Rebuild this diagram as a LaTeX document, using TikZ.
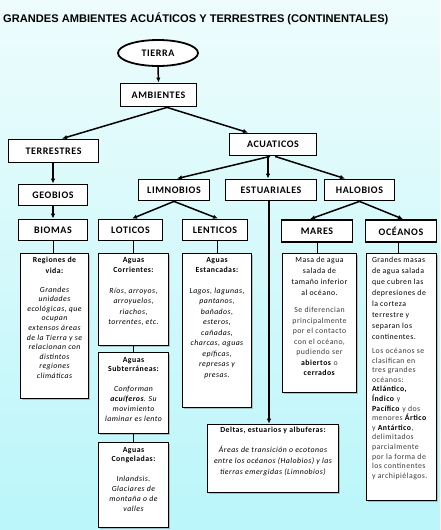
\documentclass[tikz,border=0pt]{standalone}
\usepackage{fontspec}
\setmainfont{Carlito}[LetterSpace=6]
\newfontfamily\titlefont{Liberation Sans}
\usetikzlibrary{shapes.geometric,shadows,arrows.meta,calc}
\definecolor{bgtop}{RGB}{238,252,252}
\definecolor{bgbot}{RGB}{186,246,250}
\definecolor{softtext}{RGB}{60,60,60}
\newcommand\dtext[3]{\parbox[c][#2][t]{#1}{#3}}
\newcommand\bk[1]{\textcolor{black}{\textbf{#1}}}
\begin{document}
\begin{tikzpicture}[x=1pt,y=-1pt,
 lbl/.style={draw, line width=1.8pt, fill=white, inner sep=0pt, font=\fontsize{10}{12}\selectfont\bfseries},
 desc/.style={draw, line width=0.7pt, fill=white, inner xsep=1.5pt, inner ysep=0pt,
   drop shadow={shadow xshift=1.8pt, shadow yshift=-1.8pt, opacity=0.45},
   font=\fontsize{7.8}{10.5}\selectfont},
 arr/.style={line width=1.5pt, -{Latex[length=5pt,width=4.5pt]}},
 thinline/.style={line width=0.6pt}]
\shade[top color=bgtop,bottom color=bgbot] (0,0) rectangle (440,530);
\node[anchor=base west, inner sep=0pt, font=\titlefont\bfseries\fontsize{11.1}{13}\selectfont] (title) at (3,22.7) {GRANDES AMBIENTES ACUÁTICOS Y TERRESTRES (CONTINENTALES)};

\node[lbl, ellipse, minimum width=80pt, minimum height=26pt] (tierra) at (158,53) {TIERRA};
\node[lbl, minimum width=76pt, minimum height=23pt] (amb) at (158.5,95) {AMBIENTES};
\node[lbl, minimum width=90pt, minimum height=23pt] (terr) at (53.5,151) {TERRESTRES};
\node[lbl, minimum width=87pt, minimum height=22pt] (acu) at (273,144.5) {ACUATICOS};
\node[lbl, minimum width=69pt, minimum height=21pt] (geo) at (53,195) {GEOBIOS};
\node[lbl, minimum width=71pt, minimum height=21pt] (limno) at (174,190) {LIMNOBIOS};
\node[lbl, minimum width=91pt, minimum height=21pt] (estu) at (271,190) {ESTUARIALES};
\node[lbl, minimum width=70pt, minimum height=21pt] (halo) at (359.5,190) {HALOBIOS};
\node[lbl, minimum width=69pt, minimum height=21pt] (biomas) at (53,230) {BIOMAS};
\node[lbl, minimum width=64pt, minimum height=21pt] (lot) at (130.5,230) {LOTICOS};
\node[lbl, minimum width=65pt, minimum height=21pt] (len) at (215,230) {LENTICOS};
\node[lbl, minimum width=71pt, minimum height=22pt] (mares) at (317,231) {MARES};
\node[lbl, minimum width=71pt, minimum height=22pt] (oce) at (401,231) {OCÉANOS};

% description boxes
\node[desc] (dbio) at (54.5,325.5) {\dtext{65pt}{145pt}{\centering\vspace*{4.5pt}%
{\bfseries Regiones de\\ vida:\par}\vspace{9pt}%
{\fontsize{7.8}{9.6}\selectfont\itshape Grandes\\ unidades\\ ecológicas, que\\ ocupan\\ extensos áreas\\ de la Tierra y se\\ relacionan con\\ distintos\\ regiones\\ climáticas\par}}};

\node[desc] (dcorr) at (133.5,299) {\dtext{67pt}{92pt}{\centering\vspace*{4pt}%
{\bfseries Aguas\\ Corrientes:\par}\vspace{10pt}%
{\itshape Ríos, arroyos,\\ arroyuelos,\\ riachos,\\ torrentes, etc.\par}}};

\node[desc, font=\fontsize{7.8}{9.9}\selectfont] (dsub) at (133.5,392.5) {\dtext{67pt}{81pt}{\centering\vspace*{5pt}%
{\bfseries Aguas\\ Subterráneas:\par}\vspace{10pt}%
{\itshape Conforman\\ \textbf{acuíferos}. Su\\ movimiento\\ laminar es lento\par}}};

\node[desc, font=\fontsize{7.8}{9.9}\selectfont] (dcong) at (133.5,484.5) {\dtext{67pt}{85pt}{\centering\vspace*{5pt}%
{\bfseries Aguas\\ Congeladas:\par}\vspace{10pt}%
{\itshape Inlandsis.\\ Glaciares de\\ montaña o de\\ valles\par}}};

\node[desc] (dest) at (217,330) {\dtext{66pt}{154pt}{\centering\vspace*{4pt}%
{\bfseries Aguas\\ Estancadas:\par}\vspace{10pt}%
{\itshape Lagos, lagunas,\\ pantanos,\\ bañados,\\ esteros,\\ cañadas,\\ charcas, aguas\\ epíficas,\\ represas y\\ presas.\par}}};

\node[desc] (dmar) at (319.5,322.5) {\dtext{71pt}{139pt}{\centering\vspace*{4pt}%
{\fontsize{7.8}{11}\selectfont Masa de agua\\ salada de\\ tamaño inferior\\ al océano.\par}\vspace{7pt}%
{\color{softtext}Se diferencian\\ principalmente\\ por el contacto\\ con el océano,\\ pudiendo ser\\ \bk{abiertos} o\\ \bk{cerrados}\par}}};

\node[desc] (doce) at (401.5,376.5) {\dtext{67pt}{247pt}{\raggedright\leftskip=4pt\vspace*{4pt}%
{\fontsize{7.8}{11}\selectfont Grandes masas\\ de agua salada\\ que cubren las\\ depresiones de\\ la corteza\\ terrestre y\\ separan los\\ continentes.\par}\vspace{4.5pt}%
{\fontsize{7.8}{9.6}\selectfont\color{softtext} Los océanos se\\ clasifican en\\ tres grandes\\ océanos:\\ \bk{Atlántico,}\\ \bk{Índico} y\\ \bk{Pacífico} y dos\\ menores \bk{Ártico}\\ y \bk{Antártico},\\ delimitados\\ parcialmente\\ por la forma de\\ los continentes\\ y archipiélagos.\par}}};

\node[desc, font=\fontsize{7.8}{11}\selectfont] (deltas) at (273,458) {\dtext{128pt}{68pt}{\centering\vspace*{3.5pt}%
{\bfseries Deltas, estuarios y albuferas:\par}\vspace{9pt}%
{\itshape Áreas de transición o ecotonos\\ entre los océanos (Halobios) y las\\ tierras emergidas (Limnobios)\par}}};

% connectors
\draw[arr] (tierra.south) -- (amb.north);
\draw[arr] ($(amb.south)+(8.5,0)$) -- ($(terr.north)+(8.5,0)$);
\draw[arr] ($(amb.south)+(8.5,0)$) -- ($(acu.north)+(-25,0)$);
\draw[arr] (terr.south -| geo.north) -- (geo.north);
\draw[arr] (geo) -- (biomas);
\draw[arr] ($(acu.south)+(-3,0)$) -- ($(limno.north)+(3,0)$);
\draw[arr] ($(acu.south)+(-5,0)$) -- ($(estu.north)+(-3,0)$);
\draw[arr] ($(acu.south)+(2,0)$) -- ($(halo.north)+(-14.5,0)$);
\draw[arr] (limno.south) -- ($(lot.north)+(1.5,0)$);
\draw[arr] (limno.south) -- ($(len.north)+(3,0)$);
\draw[arr] (halo.south) -- ($(mares.north)+(-7,0)$);
\draw[arr] (halo.south) -- ($(oce.north)+(2,0)$);
\draw[arr] ($(estu.south)+(-2,0)$) -- ($(deltas.north)+(-4,0)$);
\draw[thinline] (biomas.south) -- (biomas.south |- dbio.north);
\draw[thinline] (dcorr.north |- lot.south) -- (dcorr.north);
\draw[thinline] (dcorr) -- (dsub);
\draw[thinline] (dsub) -- (dcong);
\draw[thinline] (dest.north |- len.south) -- (dest.north);
\draw[thinline] (mares.south) -- (mares.south |- dmar.north);
\draw[thinline] ($(oce.south)+(-3,0)$) -- ($(doce.north)+(-3.5,0)$);
\end{tikzpicture}
\end{document}
